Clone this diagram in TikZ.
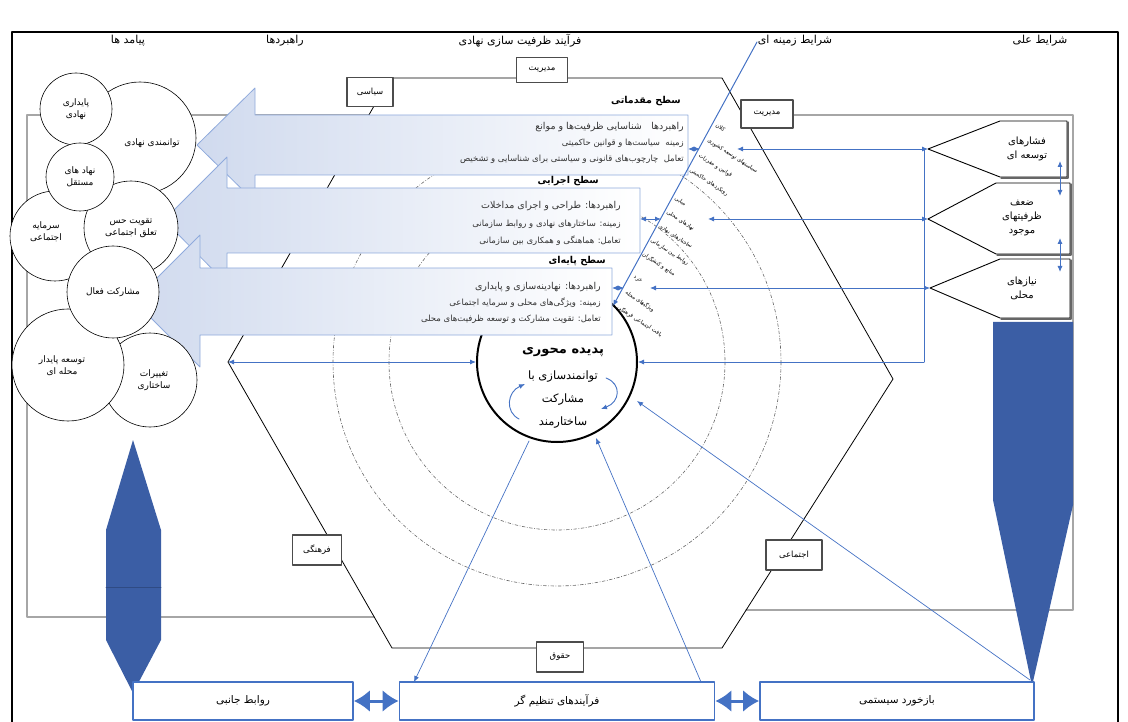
\documentclass[tikz,border=0pt]{standalone}
\usepackage{fontspec}
\usetikzlibrary{arrows.meta}
\newfontfamily\fafont[Script=Arabic]{DejaVu Sans}
\TeXXeTstate=1
\newcommand{\fatxt}[1]{{\fafont\beginR #1\endR}}
\definecolor{lineblue}{RGB}{68,114,196}
\definecolor{darkblue}{RGB}{59,94,165}
\definecolor{paleblue}{RGB}{208,218,238}
\definecolor{edgeblue}{RGB}{143,170,220}

\tikzset{
  hdr/.style={font=\fontsize{11}{12}\selectfont, inner sep=1pt},
  outc/.style={circle, draw, fill=white, line width=0.6pt, inner sep=0pt,
    align=center, font=\fontsize{9}{12}\selectfont},
  outt/.style={align=center, font=\fontsize{9}{12}\selectfont},
  hexlab/.style={draw=black!70, line width=1.1pt, fill=white, inner sep=1pt,
    font=\fontsize{8.5}{9}\selectfont},
  lvltitle/.style={anchor=east, font=\bfseries\fontsize{9.5}{10}\selectfont, inner sep=1pt},
  lvlmain/.style={anchor=east, text=black!80, font=\fontsize{9.5}{10}\selectfont, inner sep=1pt},
  lvlsub/.style={anchor=east, text=black!80, font=\fontsize{8.5}{9}\selectfont, inner sep=1pt},
  strat/.style={draw=edgeblue, line width=0.8pt, left color=paleblue, right color=white},
  bbox/.style={draw=lineblue, line width=1.6pt, fill=white, inner sep=0pt,
    font=\fontsize{10.5}{11}\selectfont},
  cause/.style={align=center, font=\fontsize{10}{14}\selectfont},
  ctx/.style={rotate=-33, anchor=west, inner sep=0pt, font=\fontsize{5.5}{6}\selectfont},
  barrow/.style={draw=lineblue, line width=0.9pt, -{Latex[length=6pt,width=5pt]}},
  dbarrow/.style={draw=lineblue, line width=0.9pt, {Latex[length=6pt,width=5pt]}-{Latex[length=6pt,width=5pt]}},
  bigdarrow/.style={draw=lineblue, line width=3pt, {Latex[length=16pt,width=22pt]}-{Latex[length=16pt,width=22pt]}}
}

\begin{document}
\begin{tikzpicture}[x=1pt,y=-1pt,line cap=round,line join=round]
  \useasboundingbox (0,0) rectangle (1128,722);
  \draw[line width=1.2pt] (12,722) -- (12,32) -- (1118,32) -- (1118,722);

  % headers
  \node[hdr] (hout) at (128,41) {\fatxt{پیامد ها}};
  \node[hdr] (hstr) at (285,41) {\fatxt{راهبردها}};
  \node[hdr] (hproc) at (520,41) {\fatxt{فرآیند ظرفیت سازی نهادی}};
  \node[hdr] (hctx) at (795,41) {\fatxt{شرایط زمینه ای}};
  \node[hdr] (hcau) at (1040,41) {\fatxt{شرایط علی}};

  % frame behind
  \draw[gray!70, line width=1.4pt] (369,115) -- (27,115) -- (27,617) -- (374,617);
  \draw[gray!70, line width=1.4pt] (743,115) -- (1073,115) -- (1073,610) -- (746,610);

  % hexagon
  \coordinate (TL) at (390,78);
  \coordinate (TR) at (722,78);
  \coordinate (R) at (893,379);
  \coordinate (BR) at (722,648);
  \coordinate (BL) at (392,648);
  \coordinate (L) at (228,362);
  \draw[line width=0.8pt] (TL) -- (TR) -- (R) -- (BR) -- (BL) -- (L) -- cycle;

  % rings and core
  \coordinate (O) at (557,362);
  \draw[gray!80!black, dash dot, line width=0.6pt] (O) circle (168);
  \draw[gray!80!black, dash dot, line width=0.6pt] (O) circle (224);
  \node[circle, draw, fill=white, line width=2pt, minimum size=160, inner sep=0pt] (core) at (O) {};

  % strategies
  \draw[strat] (688,115) -- (255,115) -- (255,88) -- (197,145) -- (255,202) -- (255,175) -- (688,175) -- cycle;
  \draw[strat] (640,188) -- (227,188) -- (227,157) -- (164,220) -- (227,284) -- (227,253) -- (640,253) -- cycle;
  \draw[strat] (612,268) -- (200,268) -- (200,235) -- (134,301) -- (200,367) -- (200,335) -- (612,335) -- cycle;

  \node[lvltitle] (t1) at (682,101) {\fatxt{سطح مقدماتی}};
  \node[lvlmain] (s1a) at (685,127) {\fatxt{راهبردها\quad شناسایی ظرفیت‌ها و موانع}};
  \node[lvlsub] (s1b) at (685,143) {\fatxt{زمینه\ \ سیاست‌ها و قوانین حاکمیتی}};
  \node[lvlsub] (s1c) at (685,159) {\fatxt{تعامل\ \ چارچوب‌های قانونی و سیاستی برای شناسایی و تشخیص}};

  \node[lvltitle] (t2) at (600,181) {\fatxt{سطح اجرایی}};
  \node[lvlmain] (s2a) at (622,206) {\fatxt{راهبردها: طراحی و اجرای مداخلات}};
  \node[lvlsub] (s2b) at (622,224) {\fatxt{زمینه: ساختارهای نهادی و روابط سازمانی}};
  \node[lvlsub] (s2c) at (622,241) {\fatxt{تعامل: هماهنگی و همکاری بین سازمانی}};

  \node[lvltitle] (t3) at (607,261) {\fatxt{سطح پایه‌ای}};
  \node[lvlmain] (s3a) at (602,287) {\fatxt{راهبردها: نهادینه‌سازی و پایداری}};
  \node[lvlsub] (s3b) at (602,303) {\fatxt{زمینه: ویژگی‌های محلی و سرمایه اجتماعی}};
  \node[lvlsub] (s3c) at (602,319) {\fatxt{تعامل: تقویت مشارکت و توسعه ظرفیت‌های محلی}};

  % hexagon labels
  \node[hexlab, minimum width=46, minimum height=29] (sias) at (370,92) {\fatxt{سیاسی}};
  \node[hexlab, minimum width=51, minimum height=25] (mod1) at (542,70) {\fatxt{مدیریت}};
  \node[hexlab, minimum width=52, minimum height=28] (mod2) at (767,114) {\fatxt{مدیریت}};
  \node[hexlab, minimum width=49, minimum height=30] (farh) at (317,550) {\fatxt{فرهنگی}};
  \node[hexlab, minimum width=56, minimum height=30] (ejt) at (794,555) {\fatxt{اجتماعی}};
  \node[hexlab, minimum width=47, minimum height=30] (hoq) at (560,657) {\fatxt{حقوق}};

  % core text
  \node[font=\bfseries\fontsize{13}{14}\selectfont] (core1) at (563,352) {\fatxt{پدیده محوری}};
  \node[font=\fontsize{11.5}{12}\selectfont] (core2) at (563,377) {\fatxt{توانمندسازی با}};
  \node[font=\fontsize{11.5}{12}\selectfont] (core3) at (563,400) {\fatxt{مشارکت}};
  \node[font=\fontsize{11.5}{12}\selectfont] (core4) at (563,423) {\fatxt{ساختارمند}};
  \coordinate (la) at (519,419);
  \coordinate (lb) at (525,384);
  \coordinate (ra) at (606,378);
  \coordinate (rb) at (601,409);
  \draw[barrow] (la) .. controls (505,412) and (507,392) .. (lb);
  \draw[barrow] (ra) .. controls (622,384) and (620,402) .. (rb);

  % outcomes
  \node[outc, minimum size=112] (tavan) at (140,138) {};
  \node[outt] (tavant) at (152,143) {\fatxt{توانمندی نهادی}};
  \node[outc, minimum size=72] (payd) at (76,109) {\fatxt{پایداری}\\\fatxt{نهادی}};
  \node[outc, minimum size=90] (sarm) at (55,236) {};
  \node[outt] (sarmt) at (46,232) {\fatxt{سرمایه}\\\fatxt{اجتماعی}};
  \node[outc, minimum size=94] (taqv) at (131,228) {\fatxt{تقویت حس}\\\fatxt{تعلق اجتماعی}};
  \node[outc, minimum size=68] (nahad) at (80,177) {\fatxt{نهاد های}\\\fatxt{مستقل}};
  \node[outc, minimum size=94] (taghir) at (150,380) {};
  \node[outt] (taghirt) at (154,380) {\fatxt{تغییرات}\\\fatxt{ساختاری}};
  \node[outc, minimum size=112] (tose) at (68,365) {};
  \node[outt] (toset) at (62,366) {\fatxt{توسعه پایدار}\\\fatxt{محله ای}};
  \node[outc, minimum size=92] (mosh) at (113,292) {\fatxt{مشارکت فعال}};

  % spindles
  \fill[darkblue] (133,440) -- (161,530) -- (161,640) -- (133,693) -- (106,640) -- (106,530) -- cycle;
  \draw[darkblue!80!black, line width=0.6pt] (106,587) -- (161,587);
  \fill[darkblue] (993,322) -- (1073,322) -- (1073,505) -- (1032,686) -- (993,500) -- cycle;

  % causal conditions
  \coordinate (p1) at (928,149);
  \coordinate (p2) at (928,219);
  \coordinate (p3) at (930,288);
  \draw[line width=0.9pt] (p1) -- (1000,121) -- (1067,121) -- (1067,177) -- (1000,177) -- cycle;
  \draw[line width=0.9pt] (p2) -- (996,183) -- (1070,183) -- (1070,254) -- (996,254) -- cycle;
  \draw[line width=0.9pt] (p3) -- (1000,259) -- (1070,259) -- (1070,318) -- (1000,318) -- cycle;
  \draw[black!60, line width=1.2pt] (1068,122) -- (1068,178) -- (1001,178);
  \draw[black!60, line width=1.2pt] (1071,184) -- (1071,255) -- (997,255);
  \draw[black!60, line width=1.2pt] (1071,260) -- (1071,319) -- (1001,319);
  \node[cause] (c1) at (1027,149) {\fatxt{فشارهای}\\\fatxt{توسعه ای}};
  \node[cause] (c2) at (1022,218) {\fatxt{ضعف}\\\fatxt{ظرفیتهای}\\\fatxt{موجود}};
  \node[cause] (c3) at (1022,288) {\fatxt{نیازهای}\\\fatxt{محلی}};
  \coordinate (v1a) at (1060,161);
  \coordinate (v1b) at (1060,196);
  \coordinate (v2a) at (1060,238);
  \coordinate (v2b) at (1060,272);
  \draw[dbarrow] (v1a) -- (v1b);
  \draw[dbarrow] (v2a) -- (v2b);

  % links from causal side
  \coordinate (vt) at (924,149);
  \coordinate (vb) at (924,362);
  \coordinate (e1) at (737,149);
  \coordinate (e2) at (708,219);
  \coordinate (e3) at (650,288);
  \draw[lineblue, line width=0.9pt] (vt) -- (vb);
  \draw[dbarrow] (e1) -- (p1);
  \draw[dbarrow] (e2) -- (p2);
  \draw[dbarrow] (e3) -- (p3);
  \draw[barrow] (vb) -- (core.east);

  % contextual diagonal
  \coordinate (dtop) at (757,42);
  \coordinate (dend) at (613,306);
  \draw[barrow, line width=1pt] (dtop) -- (dend);
  \coordinate (b1) at (688,149);
  \coordinate (d1) at (700,149);
  \coordinate (b2) at (640,219);
  \coordinate (d2) at (661,219);
  \coordinate (b3) at (612,288);
  \coordinate (d3) at (624,288);
  \draw[dbarrow] (b1) -- (d1);
  \draw[dbarrow] (b2) -- (d2);
  \draw[dbarrow] (b3) -- (d3);

  \foreach \x/\y/\t in {716/125/کلان, 708/140/سیاستهای توسعه کشوری,
      699/155/قوانین و مقررات, 690/170/رویکردهای حاکمیتی,
      675/198/میانی, 667/212/نهادهای محلی, 659/226/ساختارهای نهادی,
      651/240/روابط بین سازمانی, 643/254/منابع و کنشگران,
      634/277/خرد, 626/292/ویژگیهای محله, 618/307/بافت اجتماعی فرهنگی}
    \node[ctx] (ctx\x) at (\x,\y) {\fatxt{\t}};

  % left link
  \draw[dbarrow] (L) -- (core.west);

  % feedback boxes
  \node[bbox, minimum width=220, minimum height=38] (jan) at (243,701) {\fatxt{روابط جانبی}};
  \node[bbox, minimum width=315, minimum height=38] (tanz) at (557,701) {\fatxt{فرآیندهای تنظیم گر}};
  \node[bbox, minimum width=274, minimum height=38] (baz) at (897,701) {\fatxt{بازخورد سیستمی}};
  \draw[bigdarrow] (jan.east) -- (tanz.west);
  \draw[bigdarrow] (tanz.east) -- (baz.west);

  \coordinate (f1) at (529,441);
  \coordinate (f2) at (414,682);
  \coordinate (f3) at (701,682);
  \coordinate (f4) at (596,438);
  \coordinate (f5) at (1030,680);
  \coordinate (f6) at (637,401);
  \draw[barrow, line width=0.7pt] (f1) -- (f2);
  \draw[barrow, line width=0.7pt] (f3) -- (f4);
  \draw[barrow, line width=0.7pt] (f5) -- (f6);
\end{tikzpicture}
\end{document}
